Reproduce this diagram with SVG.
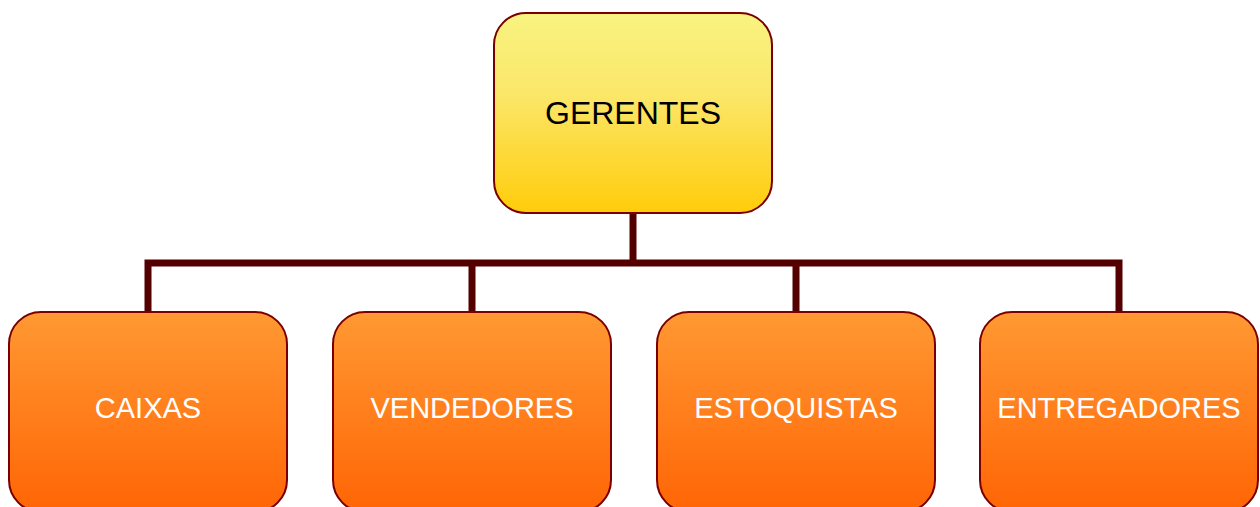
<svg xmlns="http://www.w3.org/2000/svg" width="1260" height="507" viewBox="0 0 1260 507">
<style>
.box{stroke:#7a0000;stroke-width:2}
.top{fill:url(#gy)}
.sub{fill:url(#go)}
.t1{font-family:"Liberation Sans",Arial,sans-serif;font-size:32px;fill:#000;text-anchor:middle;dominant-baseline:central}
.t2{font-family:"Liberation Sans",Arial,sans-serif;font-size:29px;fill:#fff;text-anchor:middle;dominant-baseline:central}
.ln{stroke:#550000;stroke-width:7;fill:none}
</style>
<defs>
<linearGradient id="gy" x1="0" y1="0" x2="0" y2="1">
<stop offset="0" stop-color="#f8f380"/>
<stop offset="0.4" stop-color="#fbe76a"/>
<stop offset="1" stop-color="#ffcc0a"/>
</linearGradient>
<linearGradient id="go" x1="0" y1="0" x2="0" y2="1">
<stop offset="0" stop-color="#ff9933"/>
<stop offset="1" stop-color="#ff6505"/>
</linearGradient>
</defs>
<g id="connectors">
<path class="ln" d="M633 213V263M148 312V263H1119V312M472 263V312M796 263V312"/>
</g>
<g id="gerentes">
<rect class="box top" x="494" y="13" width="278" height="200" rx="32"/>
<text class="t1" x="633" y="113">GERENTES</text>
</g>
<g id="caixas">
<rect class="box sub" x="9" y="312" width="278" height="200" rx="32"/>
<text class="t2" x="148" y="408">CAIXAS</text>
</g>
<g id="vendedores">
<rect class="box sub" x="333" y="312" width="278" height="200" rx="32"/>
<text class="t2" x="472" y="408">VENDEDORES</text>
</g>
<g id="estoquistas">
<rect class="box sub" x="657" y="312" width="278" height="200" rx="32"/>
<text class="t2" x="796" y="408">ESTOQUISTAS</text>
</g>
<g id="entregadores">
<rect class="box sub" x="980" y="312" width="278" height="200" rx="32"/>
<text class="t2" x="1119" y="408">ENTREGADORES</text>
</g>
</svg>
